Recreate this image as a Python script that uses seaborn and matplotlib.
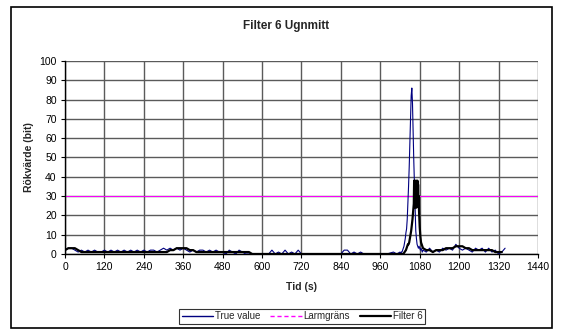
import pandas as pd
import matplotlib.pyplot as plt
import seaborn as sns
from matplotlib.patches import Rectangle
from matplotlib.lines import Line2D

# --- DATA ---
true_time = [0, 10, 20, 30, 40, 50, 60, 70, 80, 90, 100, 110, 120, 130, 140, 150, 160, 170,
             180, 190, 200, 210, 220, 230, 240, 250, 260, 270, 280, 290, 300, 310, 320, 330,
             340, 350, 360, 370, 380, 390, 400, 410, 420, 430, 440, 450, 460, 470, 480, 490,
             500, 510, 520, 530, 540, 550, 560, 580, 600, 620, 630, 640, 650, 660, 670, 680,
             690, 700, 710, 720, 740, 780, 820, 840, 850, 860, 870, 880, 890, 900, 910, 940,
             980, 1000, 1010, 1020, 1022, 1024, 1026, 1028, 1030, 1032, 1034, 1036, 1038,
             1040, 1042, 1044, 1046, 1048, 1050, 1052, 1054, 1056, 1058, 1060, 1062, 1064,
             1066, 1068, 1070, 1072, 1074, 1076, 1078, 1080, 1082, 1084, 1086, 1088, 1090,
             1100, 1110, 1120, 1130, 1140, 1150, 1160, 1170, 1180, 1190, 1200, 1210, 1220,
             1230, 1240, 1250, 1260, 1270, 1280, 1290, 1300, 1310, 1320, 1330, 1340]
true_value = [2, 3, 3, 2, 1, 2, 1, 2, 1, 2, 1, 1, 2, 1, 2, 1, 2, 1,
              2, 1, 2, 1, 2, 1, 2, 1, 2, 2, 1, 2, 3, 2, 3, 2,
              3, 2, 3, 2, 1, 2, 1, 2, 2, 1, 2, 1, 2, 1, 1, 0,
              2, 1, 0, 2, 1, 0, 0, 0, 0, 0, 2, 0, 1, 0, 2, 0,
              1, 0, 2, 0, 0, 0, 0, 0, 2, 2, 0, 1, 0, 1, 0, 0,
              0, 1, 0, 1, 0, 1, 1, 2, 3, 4, 6, 8, 11,
              13, 18, 26, 35, 45, 58, 70, 82, 86, 78, 62, 48, 36,
              22, 12, 8, 5, 4, 3, 4, 3, 2, 3, 2, 1, 2,
              1, 3, 1, 2, 1, 3, 2, 3, 2, 5, 3, 2, 3,
              2, 1, 3, 2, 3, 1, 3, 1, 2, 0, 1, 3]

filt_time = [0, 10, 20, 30, 40, 50, 60, 100, 150, 200, 250, 300, 310, 320, 330, 340, 350,
             360, 370, 380, 390, 400, 450, 500, 560, 570, 700, 850, 1000, 1030, 1034, 1038,
             1040, 1042, 1044, 1046, 1048, 1050, 1052, 1054, 1056, 1058, 1060, 1062, 1063,
             1064, 1065, 1066, 1067, 1068, 1069, 1070, 1071, 1072, 1073, 1074, 1075, 1076,
             1077, 1078, 1080, 1082, 1084, 1086, 1088, 1090, 1100, 1110, 1120, 1130, 1140,
             1150, 1160, 1170, 1180, 1190, 1200, 1210, 1220, 1230, 1240, 1250, 1260, 1270,
             1280, 1290, 1300, 1310, 1320, 1330]
filt_value = [2, 3, 3, 3, 2, 1, 1, 1, 1, 1, 1, 1, 1, 2, 2, 3, 3,
              3, 3, 2, 2, 1, 1, 1, 1, 0, 0, 0, 0, 0, 1, 2,
              3, 4, 5, 5, 6, 8, 10, 12, 15, 18, 22, 26, 38,
              25, 38, 24, 37, 25, 38, 24, 37, 26, 38, 25, 36, 27,
              30, 22, 14, 9, 6, 5, 4, 3, 2, 2, 1, 2, 2,
              2, 3, 3, 3, 4, 4, 4, 3, 3, 2, 2, 2, 2,
              2, 2, 2, 1, 1, 1]

alarm_time = [0, 1440]
alarm_value = [30, 30]

x_ticks = [0, 120, 240, 360, 480, 600, 720, 840, 960, 1080, 1200, 1320, 1440]
y_ticks = [0, 10, 20, 30, 40, 50, 60, 70, 80, 90, 100]

df_true = pd.DataFrame({'tid': true_time, 'varde': true_value})
df_filt = pd.DataFrame({'tid': filt_time, 'varde': filt_value})
df_alarm = pd.DataFrame({'tid': alarm_time, 'varde': alarm_value})

sns.set_style("white")
plt.rcParams['font.family'] = ['Liberation Sans', 'DejaVu Sans']

fig = plt.figure(figsize=(5.61, 3.29), dpi=100)
ax = fig.add_axes([0.1159, 0.228, 0.843, 0.5866])

# Excel-like grid
ax.set_axisbelow(True)
ax.grid(True, color='#5a5a5a', linewidth=1.0)

sns.lineplot(data=df_alarm, x='tid', y='varde', ax=ax, color='#ff00ff',
             linewidth=0.7, zorder=2)
sns.lineplot(data=df_true, x='tid', y='varde', ax=ax, color='#000080',
             linewidth=0.8, zorder=3)
sns.lineplot(data=df_filt, x='tid', y='varde', ax=ax, color='black',
             linewidth=1.6, zorder=4)

ax.set_xlim(0, 1440)
ax.set_ylim(0, 100)
ax.set_xticks(x_ticks)
ax.set_yticks(y_ticks)
ax.tick_params(axis='both', labelsize=7.5, length=3, width=0.8, direction='out',
               colors='black', pad=3)
ax.tick_params(axis='both', which='both', bottom=True, left=True)

for side in ['top', 'right']:
    ax.spines[side].set_visible(False)
for side in ['left', 'bottom']:
    ax.spines[side].set_color('black')
    ax.spines[side].set_linewidth(1.0)

ax.set_xlabel('Tid (s)', fontsize=7.5, fontweight='bold', labelpad=7)
ax.set_ylabel('Rökvärde (bit)', fontsize=7.5, fontweight='bold', labelpad=4)

fig.text(0.51, 0.921, 'Filter 6 Ugnmitt', ha='center', va='center',
         fontsize=8.5, fontweight='bold')

handles = [Line2D([], [], color='#000080', linewidth=1.0),
           Line2D([], [], color='#ff00ff', linewidth=1.0, linestyle=(0, (3, 2))),
           Line2D([], [], color='black', linewidth=1.6)]
leg = fig.legend(handles, ['True value', 'Larmgräns', 'Filter 6'], ncol=3,
                 loc='center', bbox_to_anchor=(0.539, 0.038), fontsize=7,
                 frameon=True, fancybox=False, handlelength=3.2,
                 handletextpad=0.2, columnspacing=1.0, borderpad=0.3,
                 borderaxespad=0)
leg.get_frame().set_edgecolor('black')
leg.get_frame().set_linewidth(0.8)

# outer chart border
fig.patches.append(Rectangle((11 / 561, 0.003), 541 / 561, 1 - 7 / 329 - 0.003,
                             transform=fig.transFigure, fill=False,
                             edgecolor='black', linewidth=1.2))

fig.savefig('out.png', dpi=100)
